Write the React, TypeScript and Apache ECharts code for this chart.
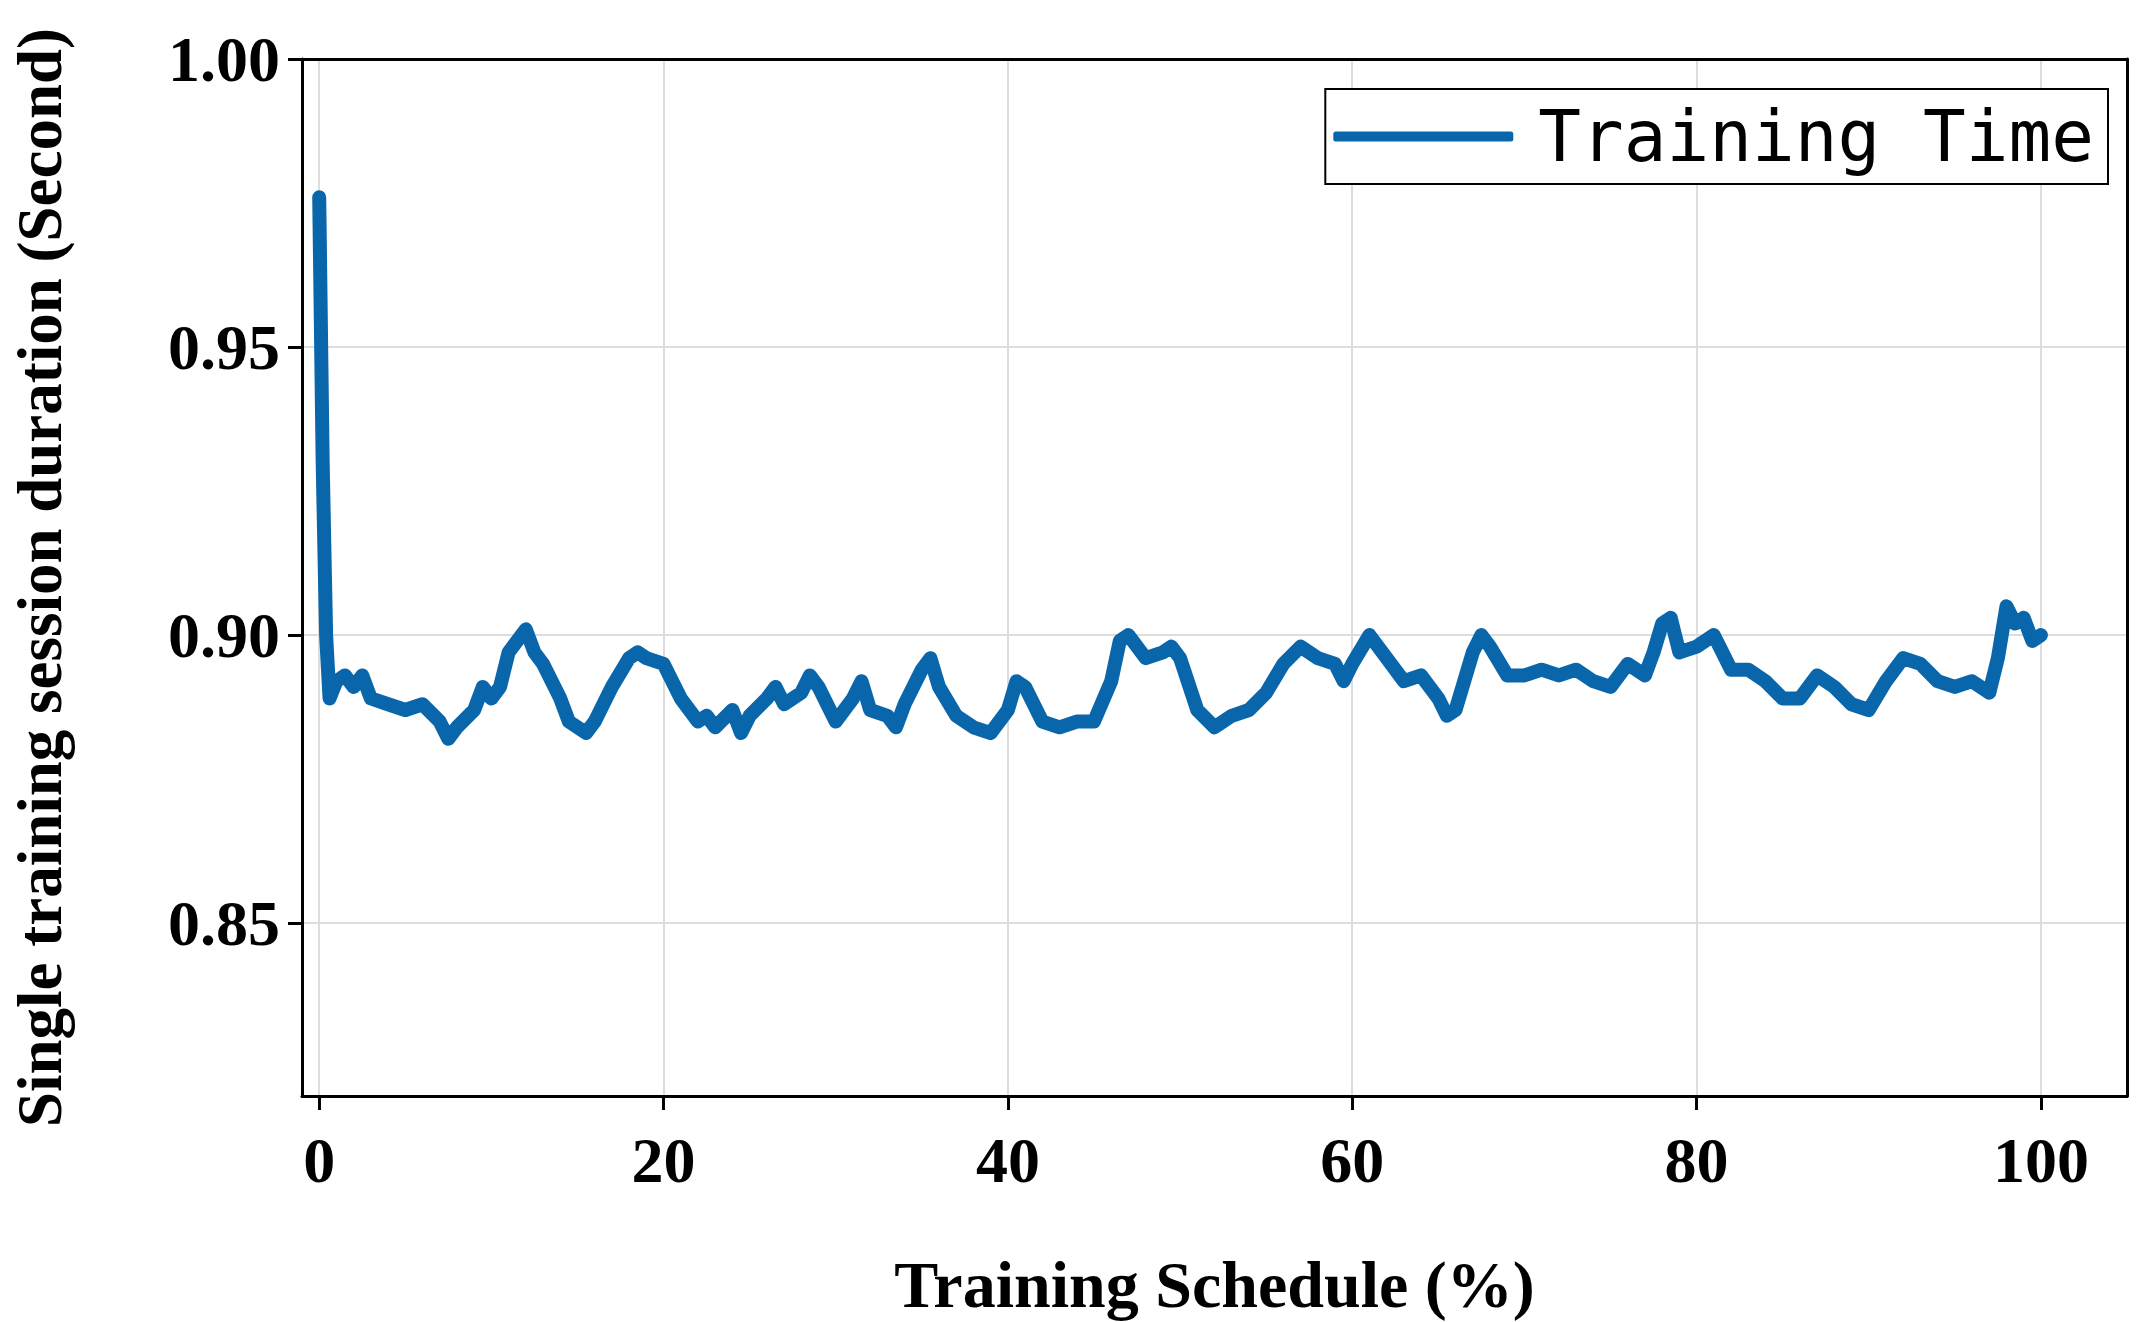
import * as echarts from "echarts";
import { useEffect, useRef } from "react";

const xs = [
  0, 0.2, 0.4, 0.6, 1, 1.5, 2, 2.5, 3, 4, 5, 6, 7, 7.5, 8, 9, 9.5, 10, 10.5, 11, 12, 12.5, 13, 14,
  14.5, 15, 15.5, 16, 17, 18, 18.5, 19, 20, 21, 22, 22.5, 23, 24, 24.5, 25, 26, 26.5, 27, 28, 28.5,
  29, 30, 31, 31.5, 32, 33, 33.5, 34, 35, 35.5, 36, 37, 38, 39, 40, 40.5, 41, 42, 43, 44, 45, 46,
  46.5, 47, 48, 49, 49.5, 50, 51, 52, 53, 54, 55, 56, 57, 58, 59, 59.5, 60, 61, 62, 63, 64, 65, 65.5,
  66, 67, 67.5, 68, 69, 70, 71, 72, 73, 74, 75, 76, 77, 77.5, 78, 78.5, 79, 80, 81, 82, 83, 84, 85,
  86, 87, 88, 89, 90, 91, 92, 93, 94, 95, 96, 97, 97.5, 98, 98.5, 99, 99.5, 100,
];
const ys = [
  0.976, 0.93, 0.9, 0.889, 0.892, 0.893, 0.891, 0.893, 0.889, 0.888, 0.887, 0.888, 0.885, 0.882,
  0.884, 0.887, 0.891, 0.889, 0.891, 0.897, 0.901, 0.897, 0.895, 0.889, 0.885, 0.884, 0.883, 0.885,
  0.891, 0.896, 0.897, 0.896, 0.895, 0.889, 0.885, 0.886, 0.884, 0.887, 0.883, 0.886, 0.889, 0.891,
  0.888, 0.89, 0.893, 0.891, 0.885, 0.889, 0.892, 0.887, 0.886, 0.884, 0.888, 0.894, 0.896, 0.891,
  0.886, 0.884, 0.883, 0.887, 0.892, 0.891, 0.885, 0.884, 0.885, 0.885, 0.892, 0.899, 0.9, 0.896,
  0.897, 0.898, 0.896, 0.887, 0.884, 0.886, 0.887, 0.89, 0.895, 0.898, 0.896, 0.895, 0.892, 0.895,
  0.9, 0.896, 0.892, 0.893, 0.889, 0.886, 0.887, 0.897, 0.9, 0.898, 0.893, 0.893, 0.894, 0.893,
  0.894, 0.892, 0.891, 0.895, 0.893, 0.897, 0.902, 0.903, 0.897, 0.898, 0.9, 0.894, 0.894, 0.892,
  0.889, 0.889, 0.893, 0.891, 0.888, 0.887, 0.892, 0.896, 0.895, 0.892, 0.891, 0.892, 0.89, 0.896,
  0.905, 0.902, 0.903, 0.899, 0.9,
];
const xTicks = [0, 20, 40, 60, 80, 100];
const yTicks = [0.85, 0.9, 0.95, 1.0];

const serif = "'Liberation Serif', 'Times New Roman', serif";

export default function App() {
  const ref = useRef<HTMLDivElement | null>(null);

  useEffect(() => {
    if (!ref.current) return;
    const chart = echarts.init(ref.current, null, { renderer: "svg" });
    const labelStyle = { color: "#000", fontFamily: serif, fontWeight: "bold", fontSize: 64 };
    const axisLine = { onZero: false, lineStyle: { color: "#000", width: 3 } };
    const frame = {
      type: "value",
      axisLine,
      axisTick: { show: false },
      axisLabel: { show: false },
      splitLine: { show: false },
    };
    chart.setOption({
      animation: false,
      grid: { left: 282, right: 18, top: 59, bottom: 201 },
      legend: {
        right: 37,
        top: 89,
        orient: "vertical",
        backgroundColor: "#fff",
        borderColor: "#000",
        borderWidth: 2,
        borderRadius: 0,
        padding: [12, 14, 12, 8],
        itemWidth: 180,
        itemHeight: 10,
        itemGap: 0,
        icon: "roundRect",
        textStyle: {
          fontFamily: "'DejaVu Sans Mono', monospace",
          fontSize: 71,
          color: "#000",
          padding: [0, 0, 0, 20],
        },
      },
      xAxis: [
        {
          type: "value",
          min: -1,
          max: 105,
          name: "Training Schedule (%)",
          nameLocation: "middle",
          nameGap: 155,
          nameTextStyle: { ...labelStyle, fontSize: 66 },
          axisLine,
          axisTick: { show: true, customValues: xTicks, length: 14, lineStyle: { color: "#000", width: 3 } },
          axisLabel: { ...labelStyle, customValues: xTicks, margin: 32 },
          splitLine: { lineStyle: { color: "#ddd", width: 2 } },
        },
        { ...frame, position: "top", min: -1, max: 105 },
      ],
      yAxis: [
        {
          type: "value",
          min: 0.82,
          max: 1.0,
          name: "Single training session duration (Second)",
          nameLocation: "middle",
          nameGap: 231,
          nameTextStyle: { ...labelStyle, fontSize: 63 },
          axisLine,
          axisTick: { show: true, customValues: yTicks, length: 14, lineStyle: { color: "#000", width: 3 } },
          axisLabel: {
            ...labelStyle,
            customValues: yTicks,
            margin: 22,
            formatter: (v: number) => v.toFixed(2),
          },
          splitLine: { lineStyle: { color: "#ddd", width: 2 } },
        },
        { ...frame, position: "right", min: 0.82, max: 1.0 },
      ],
      series: [
        {
          name: "Training Time",
          type: "line",
          data: xs.map((x, i) => [x, ys[i]]),
          showSymbol: false,
          lineStyle: { color: "#0a66aa", width: 14, join: "round", cap: "round" },
          itemStyle: { color: "#0a66aa" },
        },
      ],
    });
    return () => chart.dispose();
  }, []);

  return <div ref={ref} style={{ position: "fixed", left: 0, top: 0, width: 2145, height: 1322, background: "#fff" }} />;
}
